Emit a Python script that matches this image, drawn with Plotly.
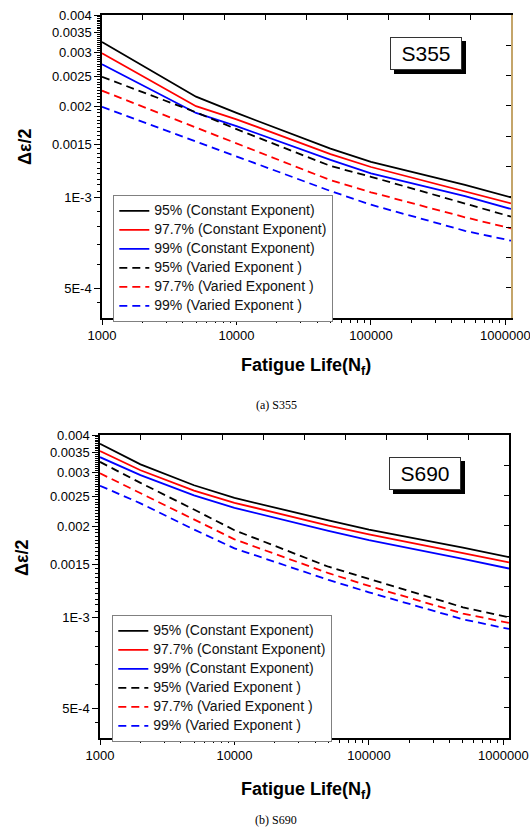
import numpy as np
import plotly.graph_objects as go

# ---------------- data ----------------
# fatigue life (cycles) at the points read for each panel
life_s355 = [1000, 5000, 10000, 50000, 100000, 500000, 1100000]
life_s690 = [1000, 2000, 5000, 10000, 50000, 100000, 500000, 1100000]

# S355 strain amplitude curves
s355_95_const = [0.00326, 0.00215, 0.00190, 0.00145, 0.00131, 0.00110, 0.00100]
s355_977_const = [0.00299, 0.00200, 0.00181, 0.00139, 0.00126, 0.00105, 0.000956]
s355_99_const = [0.00275, 0.00190, 0.00172, 0.00133, 0.00120, 0.00101, 0.000916]
s355_95_var = [0.00250, 0.00191, 0.00168, 0.00127, 0.00117, 0.000952, 0.000864]
s355_977_var = [0.00225, 0.00170, 0.00151, 0.00114, 0.00104, 0.000860, 0.000790]
s355_99_var = [0.00199, 0.00153, 0.00136, 0.00105, 0.000946, 0.000776, 0.000720]

# S690 strain amplitude curves
s690_95_const = [0.00374, 0.00320, 0.00273, 0.00248, 0.00209, 0.00195, 0.00170, 0.00158]
s690_977_const = [0.00354, 0.00306, 0.00262, 0.00239, 0.00201, 0.00188, 0.00163, 0.00152]
s690_99_const = [0.00338, 0.00295, 0.00253, 0.00230, 0.00193, 0.00180, 0.00156, 0.00145]
s690_95_var = [0.00326, 0.00278, 0.00227, 0.00194, 0.00147, 0.00134, 0.00108, 0.00100]
s690_977_var = [0.00299, 0.00257, 0.00211, 0.00181, 0.00140, 0.00127, 0.00103, 0.000959]
s690_99_var = [0.00272, 0.00238, 0.00195, 0.00169, 0.00133, 0.00121, 0.000986, 0.000916]

series_names = [
    "95% (Constant Exponent)",
    "97.7% (Constant Exponent)",
    "99% (Constant Exponent)",
    "95% (Varied Exponent )",
    "97.7% (Varied Exponent )",
    "99% (Varied Exponent )",
]
series_colors = ["#000000", "#ff0000", "#0000ff", "#000000", "#ff0000", "#0000ff"]
series_dash = ["solid", "solid", "solid", "8px,5px", "8px,5px", "8px,5px"]

s355_series = [s355_95_const, s355_977_const, s355_99_const,
               s355_95_var, s355_977_var, s355_99_var]
s690_series = [s690_95_const, s690_977_const, s690_99_const,
               s690_95_var, s690_977_var, s690_99_var]

y_tick_vals = [0.0005, 0.001, 0.0015, 0.002, 0.0025, 0.003, 0.0035, 0.004]
y_tick_text = ["5E-4", "1E-3", "0.0015", "0.002", "0.0025", "0.003", "0.0035", "0.004"]
x_tick_vals = [1000, 10000, 100000, 1000000]
x_tick_text = ["1000", "10000", "100000", "1000000"]

# ---------------- figure ----------------
W, H = 530, 833
FONT = "Liberation Sans, Arial, sans-serif"

fig = go.Figure()

def legend_label(name):
    # larger glyphs than the legend's base size keep the rows compact
    return '<span style="font-size:14px">' + name + "</span>"

for vals, name, col, dash in zip(s355_series, series_names, series_colors, series_dash):
    fig.add_trace(go.Scatter(x=life_s355, y=vals, name=legend_label(name), mode="lines",
                             line=dict(color=col, width=1.8, dash=dash),
                             xaxis="x", yaxis="y", legend="legend"))
for vals, name, col, dash in zip(s690_series, series_names, series_colors, series_dash):
    fig.add_trace(go.Scatter(x=life_s690, y=vals, name=legend_label(name), mode="lines",
                             line=dict(color=col, width=1.8, dash=dash),
                             xaxis="x2", yaxis="y2", legend="legend2"))

# empty traces that carry the tick-only frame axes (top and right)
for xa, ya in [("x3", "y"), ("x", "y3"), ("x4", "y2"), ("x2", "y4")]:
    fig.add_trace(go.Scatter(x=[], y=[], xaxis=xa, yaxis=ya, showlegend=False,
                             hoverinfo="skip"))

minor_x = [m * 10 ** e for e in (3, 4, 5) for m in range(2, 10)]
minor_y = [0.00045, 0.0006, 0.0007, 0.0008, 0.0009] + [
    round(0.001 + 0.00005 * k, 6) for k in range(1, 60)
    if round((0.001 + 0.00005 * k) * 20000) % 10 != 0
]

def px_x(p):
    return p / W

def px_y(p):
    return 1 - p / H

def main_xaxis(domain, anchor):
    return dict(type="log", range=[3, np.log10(1.1e6)], domain=domain, anchor=anchor,
                automargin=False, ticklabeloverflow="allow",
                tickmode="array", tickvals=x_tick_vals, ticktext=x_tick_text,
                ticks="outside", ticklen=5, tickwidth=1.2, tickcolor="black",
                ticklabelstandoff=0,
                showline=True, linecolor="black", linewidth=1.5, mirror=True,
                showgrid=False, zeroline=False,
                tickfont=dict(family=FONT, size=13, color="black"),
                minor=dict(tickmode="array", tickvals=minor_x, ticks="outside",
                           ticklen=3, tickcolor="black", tickwidth=1, showgrid=False))

def main_yaxis(domain, anchor):
    return dict(type="log", range=[np.log10(4e-4), np.log10(4e-3)], domain=domain,
                anchor=anchor, automargin=False, ticklabeloverflow="allow",
                tickmode="array", tickvals=y_tick_vals,
                ticktext=y_tick_text, ticks="outside", ticklen=6, tickwidth=1.2,
                tickcolor="black", showline=True, linecolor="black", linewidth=1.5,
                mirror=False, showgrid=False, zeroline=False,
                tickfont=dict(family=FONT, size=13, color="black"),
                minor=dict(tickmode="array", tickvals=minor_y, ticks="outside",
                           ticklen=3, tickcolor="black", tickwidth=1, showgrid=False))

def top_axis(over, anchor):
    return dict(overlaying=over, anchor=anchor, side="top", range=[0, 10],
                automargin=False,
                tickmode="linear", tick0=0, dtick=1, ticks="inside", ticklen=5,
                tickcolor="black", tickwidth=1.2, showticklabels=False,
                showline=False, showgrid=False, zeroline=False)

def right_axis(over, anchor, line_col):
    return dict(overlaying=over, anchor=anchor, side="right", range=[0, 10],
                automargin=False,
                tickmode="linear", tick0=0, dtick=1, ticks="inside", ticklen=5,
                tickcolor="black", tickwidth=1.2, showticklabels=False,
                showline=True, linecolor=line_col, linewidth=1.5,
                showgrid=False, zeroline=False)

top_x = [px_x(102), px_x(511)]
top_y = [px_y(318), px_y(15)]
bot_x = [px_x(100), px_x(509)]
bot_y = [px_y(738), px_y(435)]

legend_style = dict(xanchor="left", yanchor="top", bgcolor="white",
                    bordercolor="#808080", borderwidth=1.3, tracegroupgap=0,
                    font=dict(family=FONT, size=12, color="#111111"))

fig.update_layout(
    template="none",
    width=W, height=H,
    margin=dict(l=0, r=0, t=0, b=0, autoexpand=False),
    font=dict(family=FONT, color="black"),
    paper_bgcolor="white", plot_bgcolor="white",
    showlegend=True,
    xaxis=main_xaxis(top_x, "y"),
    yaxis=main_yaxis(top_y, "x"),
    xaxis2=main_xaxis(bot_x, "y2"),
    yaxis2=main_yaxis(bot_y, "x2"),
    xaxis3=top_axis("x", "y"),
    yaxis3=right_axis("y", "x", "#c4a56a"),
    xaxis4=top_axis("x2", "y2"),
    yaxis4=right_axis("y2", "x2", "black"),
    legend=dict(x=px_x(113), y=px_y(195), **legend_style),
    legend2=dict(x=px_x(112), y=px_y(615), **legend_style),
)

annotations = []
# steel grade labels with drop shadow
for label, cx, cy in [("S355", 426, 53), ("S690", 425, 473)]:
    annotations.append(dict(text=label, x=px_x(cx), y=px_y(cy), xref="paper", yref="paper",
                            xanchor="center", yanchor="middle",
                            xshift=4, yshift=-4, showarrow=False, width=68, height=29,
                            bgcolor="black", bordercolor="black", borderwidth=1,
                            font=dict(family=FONT, size=21, color="black")))
    annotations.append(dict(text=label, x=px_x(cx), y=px_y(cy), xref="paper", yref="paper",
                            xanchor="center", yanchor="middle",
                            showarrow=False, width=68, height=29,
                            bgcolor="white", bordercolor="#333333", borderwidth=1,
                            font=dict(family=FONT, size=21, color="black")))

# axis titles and captions
for ty, tx, xt_y, cap_y, cap in [(147, 25, 366, 405, "(a) S355"),
                                  (558, 22, 790, 820, "(b) S690")]:
    annotations.append(dict(text="<b>Δε/2</b>", x=px_x(tx), y=px_y(ty), xref="paper",
                            yref="paper", textangle=-90, showarrow=False,
                            xanchor="center", yanchor="middle",
                            font=dict(family=FONT, size=18, color="black")))
    annotations.append(dict(text="<b>Fatigue Life(N<sub>f</sub>)</b>", x=px_x(306),
                            y=px_y(xt_y), xref="paper", yref="paper", showarrow=False,
                            xanchor="center", yanchor="middle",
                            font=dict(family=FONT, size=18, color="black")))
    annotations.append(dict(text=cap, x=px_x(276), y=px_y(cap_y), xref="paper",
                            yref="paper", showarrow=False,
                            xanchor="center", yanchor="middle",
                            font=dict(family="Liberation Serif, Times New Roman, serif",
                                      size=12, color="black")))

fig.update_layout(annotations=annotations)

fig.write_html("out.html")
